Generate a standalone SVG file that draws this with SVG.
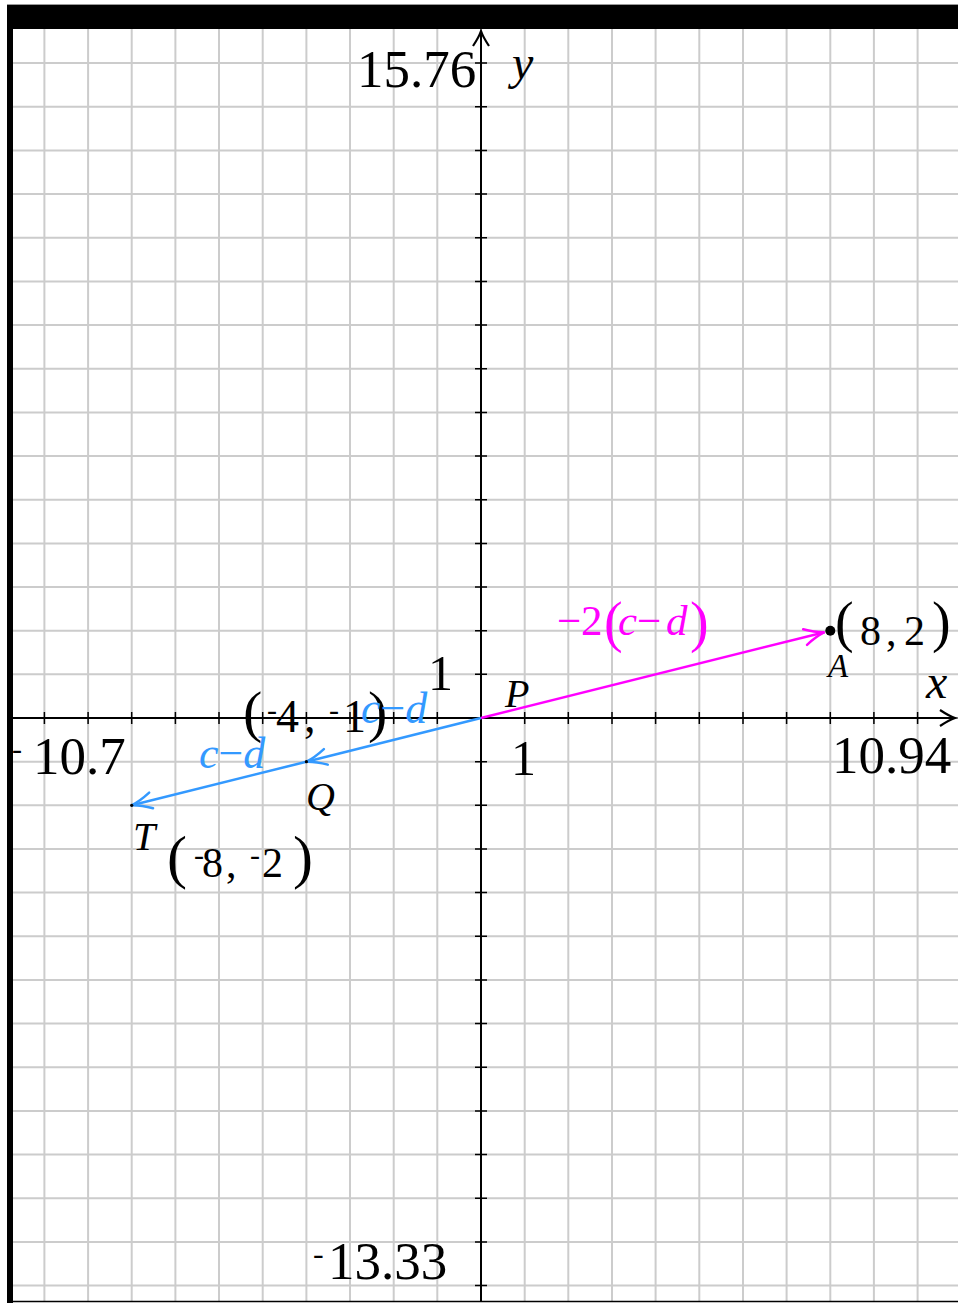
<svg xmlns="http://www.w3.org/2000/svg" width="958" height="1303" viewBox="0 0 958 1303">
<style>
.grid{stroke:#cccccc;stroke-width:2;fill:none}
.axis{stroke:#000;stroke-width:2;fill:none}
.tick{stroke:#000;stroke-width:1.5;fill:none}
.t{font-family:"Liberation Serif","Times New Roman",serif;fill:#000}
.it{font-style:italic}
.blue{fill:#3399ff}
.mag{fill:#ff00ff}
</style>
<defs>
<marker id="arrBlue" markerUnits="userSpaceOnUse" viewBox="-24 -12 26 24" refX="0" refY="0" markerWidth="26" markerHeight="24" orient="auto" overflow="visible">
<path d="M-20,-8 Q-9,-2 0,0 Q-9,2 -20,8" fill="none" stroke="#3399ff" stroke-width="2.5" stroke-linecap="round"/>
</marker>
<marker id="arrMag" markerUnits="userSpaceOnUse" viewBox="-24 -12 26 24" refX="0" refY="0" markerWidth="26" markerHeight="24" orient="auto" overflow="visible">
<path d="M-20,-8 Q-9,-2 0,0 Q-9,2 -20,8" fill="none" stroke="#ff00ff" stroke-width="2.5" stroke-linecap="round"/>
</marker>
<marker id="arrAxis" markerUnits="userSpaceOnUse" viewBox="-20 -12 22 24" refX="0" refY="0" markerWidth="22" markerHeight="24" orient="auto" overflow="visible">
<path d="M-15,-8 Q-6,-2 0,0 Q-6,2 -15,8" fill="none" stroke="#000" stroke-width="2.2"/>
</marker>
</defs>
<rect x="0" y="0" width="958" height="1303" fill="#fff"/>
<g id="grid">
<path class="grid" d="M44.4 29V1301M88.1 29V1301M131.7 29V1301M175.4 29V1301M219 29V1301M262.7 29V1301M306.4 29V1301M350 29V1301M393.7 29V1301M437.3 29V1301M481 29V1301M524.7 29V1301M568.3 29V1301M612 29V1301M655.6 29V1301M699.3 29V1301M743 29V1301M786.6 29V1301M830.3 29V1301M873.9 29V1301M917.6 29V1301"/>
<path class="grid" d="M13 63.1H958M13 106.8H958M13 150.4H958M13 194.1H958M13 237.7H958M13 281.4H958M13 325.1H958M13 368.7H958M13 412.4H958M13 456H958M13 499.7H958M13 543.4H958M13 587H958M13 630.7H958M13 674.3H958M13 718H958M13 761.7H958M13 805.3H958M13 849H958M13 892.6H958M13 936.3H958M13 980H958M13 1023.6H958M13 1067.3H958M13 1110.9H958M13 1154.6H958M13 1198.3H958M13 1241.9H958M13 1285.6H958"/>
</g>
<g id="axes">
<path class="axis" d="M13 718H955" marker-end="url(#arrAxis)"/>
<path class="axis" d="M481 1301V31" marker-end="url(#arrAxis)"/>
<path class="tick" d="M44.4 712V724M88.1 712V724M131.7 712V724M175.4 712V724M219 712V724M262.7 712V724M306.4 712V724M350 712V724M393.7 712V724M437.3 712V724M524.7 712V724M568.3 712V724M612 712V724M655.6 712V724M699.3 712V724M743 712V724M786.6 712V724M830.3 712V724M873.9 712V724M917.6 712V724"/>
<path class="tick" d="M475 63.1H487M475 106.8H487M475 150.4H487M475 194.1H487M475 237.7H487M475 281.4H487M475 325.1H487M475 368.7H487M475 412.4H487M475 456H487M475 499.7H487M475 543.4H487M475 587H487M475 630.7H487M475 674.3H487M475 761.7H487M475 805.3H487M475 849H487M475 892.6H487M475 936.3H487M475 980H487M475 1023.6H487M475 1067.3H487M475 1110.9H487M475 1154.6H487M475 1198.3H487M475 1241.9H487M475 1285.6H487"/>
</g>
<g id="connectors">
<path d="M481 718L306.4 761.7" stroke="#3399ff" stroke-width="2.5" fill="none" marker-end="url(#arrBlue)"/>
<path d="M306.4 761.7L131.7 805.3" stroke="#3399ff" stroke-width="2.5" fill="none" marker-end="url(#arrBlue)"/>
<path d="M481 718L824.5 632.2" stroke="#ff00ff" stroke-width="2.5" fill="none" marker-end="url(#arrMag)"/>
</g>
<g id="point-A">
<circle cx="830.3" cy="630.7" r="5" fill="#000"/>
<text class="t it" x="828" y="677" font-size="33">A</text>
<text class="t" x="835" y="641" font-size="56">(</text>
<text class="t" x="860" y="645" font-size="42">8</text>
<text class="t" x="886" y="645" font-size="42">,</text>
<text class="t" x="904" y="645" font-size="42">2</text>
<text class="t" x="932" y="641" font-size="56">)</text>
</g>
<g id="point-P">
<text class="t it" x="505" y="707" font-size="40">P</text>
</g>
<g id="point-Q">
<circle cx="306.4" cy="761.7" r="1.6" fill="#000"/>
<text class="t it" x="306" y="810" font-size="40">Q</text>
<text class="t" x="243" y="731" font-size="58">(</text>
<text class="t" x="267" y="720" font-size="30">-</text>
<text class="t" x="276" y="732" font-size="46">4</text>
<text class="t" x="304" y="732" font-size="46">,</text>
<text class="t" x="329" y="720" font-size="30">-</text>
<text class="t" x="343" y="732" font-size="46">1</text>
<text class="t" x="368" y="731" font-size="58">)</text>
</g>
<g id="point-T">
<circle cx="131.7" cy="805.3" r="1.6" fill="#000"/>
<text class="t it" x="133" y="850" font-size="40">T</text>
<text class="t" x="167" y="877" font-size="60">(</text>
<text class="t" x="194" y="865" font-size="30">-</text>
<text class="t" x="202" y="877" font-size="42">8</text>
<text class="t" x="226" y="877" font-size="42">,</text>
<text class="t" x="250" y="865" font-size="30">-</text>
<text class="t" x="262" y="877" font-size="42">2</text>
<text class="t" x="293" y="877" font-size="60">)</text>
</g>
<g id="vector-labels">
<text class="t blue" x="361" y="723" font-size="44"><tspan class="it">c</tspan>−<tspan class="it">d</tspan></text>
<text class="t blue" x="199" y="768" font-size="44"><tspan class="it">c</tspan>−<tspan class="it">d</tspan></text>
<text class="t mag" y="635" font-size="43"><tspan x="557">−</tspan><tspan x="581">2</tspan><tspan x="604" font-size="56" dy="6">(</tspan><tspan x="618" class="it" dy="-6">c</tspan><tspan x="637">−</tspan><tspan x="666" class="it">d</tspan><tspan x="690" font-size="56" dy="6">)</tspan></text>
</g>
<g id="axis-labels">
<text class="t" x="357" y="87" font-size="53">15.76</text>
<text class="t it" x="512" y="79" font-size="48">y</text>
<text class="t it" x="926" y="698" font-size="48">x</text>
<text class="t" y="774" font-size="53"><tspan x="12" y="759" font-size="30">-</tspan><tspan x="33" y="774">10.7</tspan></text>
<text class="t" x="832" y="773" font-size="53">10.94</text>
<text class="t" y="1279" font-size="53"><tspan x="313" y="1264" font-size="32">-</tspan><tspan x="328" y="1279">13.33</tspan></text>
<text class="t" x="428" y="690" font-size="50">1</text>
<text class="t" x="511" y="775" font-size="50">1</text>
</g>
<g id="frame">
<line x1="7" y1="4.5" x2="958" y2="4.5" stroke="#999" stroke-width="1"/>
<rect x="7" y="5" width="951" height="24" fill="#000"/>
<rect x="7" y="5" width="6" height="1298" fill="#000"/>
<line x1="7" y1="1301.5" x2="958" y2="1301.5" stroke="#000" stroke-width="1.5"/>
</g>
</svg>
